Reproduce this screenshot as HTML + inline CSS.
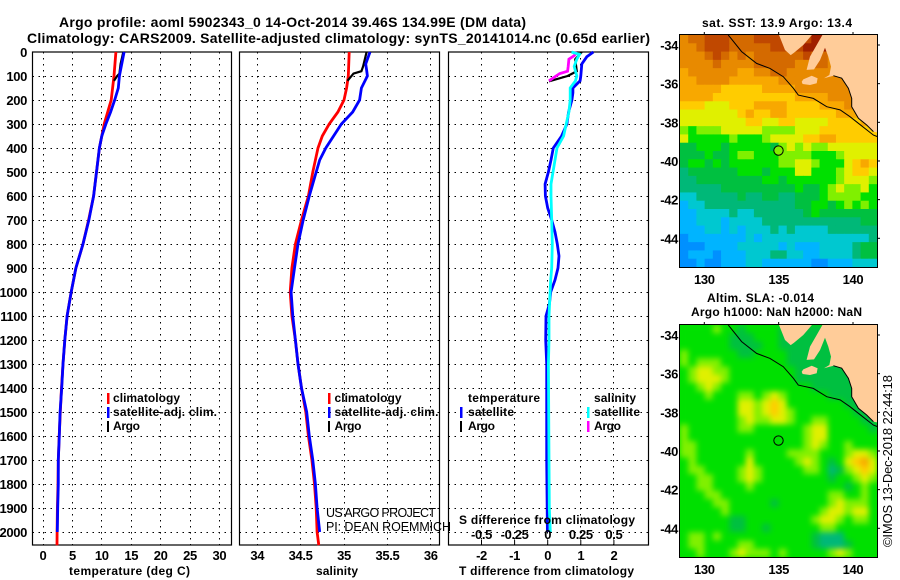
<!DOCTYPE html>
<html lang="en">
<head>
<meta charset="utf-8">
<title>Argo profile 5902343</title>
<style>
html,body{margin:0;padding:0;background:#fff;}
svg{display:block;}
text{font-family:"Liberation Sans",sans-serif;fill:#000;}
.b{font-weight:bold;font-size:12px;}
.t{font-weight:bold;font-size:14px;}
.k{font-weight:bold;font-size:13px;letter-spacing:-.35px;}
.r{font-weight:normal;font-size:12.5px;}
</style>
</head>
<body>
<svg id="chart" xmlns="http://www.w3.org/2000/svg" width="900" height="580" viewBox="0 0 900 580">
  <g id="layer-maps"></g>
  <g id="layer-panels"></g>

  <text class="t" x="59" y="27" textLength="467">Argo profile: aoml 5902343_0 14-Oct-2014 39.46S 134.99E (DM data)</text>
  <text class="t" x="27" y="43" textLength="623">Climatology: CARS2009. Satellite-adjusted climatology: synTS_20141014.nc (0.65d earlier)</text>

  <text class="b" x="69" y="575" textLength="121">temperature (deg C)</text>
  <text class="b" x="316" y="575" textLength="42">salinity</text>
  <text class="b" x="459" y="575" textLength="175">T difference from climatology</text>
  <text class="b" x="459" y="524" textLength="176">S difference from climatology</text>

  <g>
    <rect x="107" y="393" width="2.5" height="11" fill="#ff0000"/>
    <rect x="107" y="407" width="2.5" height="11" fill="#0000ff"/>
    <rect x="107" y="421" width="2" height="11" fill="#000"/>
    <text class="b" x="113" y="402" textLength="67">climatology</text>
    <text class="b" x="113" y="416" textLength="104">satellite-adj. clim.</text>
    <text class="b" x="113" y="430" textLength="27">Argo</text>
  </g>
  <g>
    <rect x="328" y="393" width="2.5" height="11" fill="#ff0000"/>
    <rect x="328" y="407" width="2.5" height="11" fill="#0000ff"/>
    <rect x="328" y="421" width="2" height="11" fill="#000"/>
    <text class="b" x="334.5" y="402" textLength="67">climatology</text>
    <text class="b" x="334.5" y="416" textLength="104">satellite-adj. clim.</text>
    <text class="b" x="334.5" y="430" textLength="27">Argo</text>
  </g>
  <g>
    <text class="b" x="468" y="402" textLength="72">temperature</text>
    <rect x="460" y="407" width="2.5" height="11" fill="#0000ff"/>
    <rect x="460" y="421" width="2" height="11" fill="#000"/>
    <text class="b" x="468" y="416" textLength="46">satellite</text>
    <text class="b" x="468" y="430" textLength="27">Argo</text>
    <text class="b" x="594" y="402" textLength="42">salinity</text>
    <rect x="587" y="407" width="2.5" height="11" fill="#00ffff"/>
    <rect x="587" y="421" width="2.5" height="11" fill="#ff00ff"/>
    <text class="b" x="594" y="416" textLength="46">satellite</text>
    <text class="b" x="594" y="430" textLength="27">Argo</text>
  </g>

  <text class="r" x="326" y="517" textLength="110">US ARGO PROJECT</text>
  <text class="r" x="326" y="531" textLength="125">PI: DEAN ROEMMICH</text>

  <text class="b" x="702" y="27" textLength="150">sat. SST: 13.9 Argo: 13.4</text>
  <text class="b" x="707" y="302" textLength="107">Altim. SLA: -0.014</text>
  <text class="b" x="691" y="316" textLength="171">Argo h1000: NaN h2000: NaN</text>
  <text class="r" transform="translate(892,547) rotate(-90)" textLength="172" style="font-size:13px">©IMOS 13-Dec-2018 22:44:18</text>
</svg>

<script>
// ---------- axis tick values ----------
const depthTicks = [0,100,200,300,400,500,600,700,800,900,1000,1100,1200,1300,1400,1500,1600,1700,1800,1900,2000];
const tempTicks = [0,5,10,15,20,25,30];
const salTicks = [34,34.5,35,35.5,36];
const salTickLabels = ["34","34.5","35","35.5","36"];
const dtTicks = [-2,-1,0,1,2];
const dsTicks = [-0.5,-0.25,0,0.25,0.5];
const dsTickLabels = ["-0.5","-0.25","0","0.25","0.5"];
const lonTicks = [130,135,140];
const latTicks = [-34,-36,-38,-40,-42,-44];

// ---------- temperature profiles ----------
const tempClimDepth = [0,100,200,300,400,500,600,700,800,900,1000,1100,1200,1300,1400,1500,1600,1700,1800,1900,2000,2055];
const tempClim = [12.4,12.07,11.6,10.4,9.6,9.1,8.6,7.75,6.8,5.6,4.8,4.1,3.7,3.4,3.15,2.95,2.75,2.6,2.55,2.45,2.4,2.38];
const tempSatDepth = [0,100,150,200,250,300,350,400,500,600,700,800,900,1000,1100,1200,1300,1400,1500,1600,1700,1800,1900,2000];
const tempSat = [13.8,13,12.8,12.2,11.5,10.7,10,9.6,9.1,8.6,7.8,6.8,5.6,4.8,4.1,3.7,3.4,3.18,2.9,2.78,2.6,2.6,2.5,2.43];
const tempArgoDepth = [0,50,90,100,120];
const tempArgo = [13.66,13.2,13,12.6,12.07];

// ---------- salinity profiles ----------
const salClimDepth = [0,100,150,200,250,300,350,400,450,500,600,700,800,900,1000,1100,1200,1300,1400,1500,1600,1700,1800,1900,2000,2055];
const salClim = [35.06,35.05,35.03,35,34.93,34.83,34.75,34.7,34.67,34.64,34.59,34.51,34.44,34.4,34.38,34.4,34.44,34.47,34.51,34.56,34.59,34.63,34.66,34.68,34.69,34.71];
const salSatDepth = [0,50,75,100,150,200,250,300,350,400,450,500,600,700,800,900,1000,1100,1200,1300,1400,1500,1600,1700,1800,1900,2000];
const salSat = [35.3,35.25,35.26,35.27,35.2,35.18,35.1,34.97,34.88,34.79,34.72,34.68,34.6,34.53,34.47,34.43,34.39,34.41,34.44,34.47,34.51,34.57,34.6,34.64,34.67,34.69,34.72];
const salArgoDepth = [0,60,80,90,120];
const salArgo = [35.26,35.22,35.2,35.11,35.04];

// ---------- difference profiles ----------
const dtSatDepth = [0,20,50,100,120,150,170,200,250,300,350,400,450,500,550,600,650,700,750,800,850,900,950,1000,1050,1100,1200,1300,1700,2000];
const dtSat = [1.38,1.18,1.03,1,0.98,0.76,0.76,0.73,0.63,0.58,0.42,0.17,0.1,0.02,-0.08,-0.07,0,0.12,0.22,0.29,0.34,0.31,0.22,0.09,0.05,-0.05,-0.06,-0.03,-0.03,-0.01];
const dsSatDepth = [0,10,30,60,100,120,150,200,250,300,350,400,450,500,550,600,700,800,900,950,1000,1100,1200,1300,1900,2000];
const dsSat = [0.18,0.24,0.22,0.2,0.22,0.21,0.17,0.17,0.16,0.14,0.12,0.07,0.055,0.04,0.025,0.025,0.03,0.035,0.03,0.023,0.018,0.01,0.01,0.005,0.012,0.02];
const dtArgoDepth = [0,30,80,100,122];
const dtArgo = [1.03,0.83,0.88,0.6,0.04];
const dsArgoDepth = [0,15,30,60,80,90,120];
const dsArgo = [0.22,0.2,0.16,0.155,0.15,0.09,0.01];

// ---------- satellite SST map: colour-scale level per grid cell, north to south ----------
const sstLevels = [
[10,11,11,12,12,12,11,11,11,12,12,12,12,12,12,12,13,13,13,13,11,11,11,11],
[10,10,11,12,12,12,11,11,11,11,11,12,12,12,12,13,13,13,11,11,11,11,11,11],
[10,10,10,11,12,11,10,11,10,11,11,11,11,11,11,12,11,11,10,10,10,10,10,10],
[10,10,10,10,11,10,10,10,10,11,11,11,11,11,10,10,11,11,10,10,10,10,10,10],
[9,10,10,10,10,10,10,9,9,10,10,11,11,10,10,10,10,10,10,10,10,10,10,10],
[9,9,10,10,10,10,9,9,9,9,9,9,10,10,10,10,10,10,10,10,10,9,9,9],
[9,9,9,9,9,8,8,8,8,8,9,9,9,9,10,10,10,10,10,10,10,10,10,10],
[9,9,9,9,8,8,8,8,8,8,8,8,8,8,9,9,9,9,10,10,10,10,10,10],
[8,8,8,7,7,7,8,8,8,9,9,9,9,8,8,8,8,9,9,9,10,10,10,10],
[7,7,7,7,7,7,7,8,9,8,8,9,9,8,8,8,8,8,8,9,9,9,9,9],
[7,7,7,7,7,7,7,7,8,8,7,7,8,8,7,7,7,7,8,8,8,8,9,9],
[6,5,6,6,6,7,7,7,7,7,6,6,6,6,7,7,7,8,8,8,8,8,8,8],
[7,5,5,5,5,5,6,5,5,5,6,7,7,7,7,8,8,9,9,8,8,8,8,8],
[4,4,5,5,5,4,5,5,5,5,5,4,6,7,6,7,6,6,7,7,7,7,7,7],
[4,4,4,5,4,4,5,6,6,5,5,5,6,6,6,6,5,5,5,6,7,7,7,7],
[4,5,5,4,5,4,5,5,5,5,5,5,6,6,7,7,6,5,5,5,7,8,9,8],
[3,4,4,4,4,4,4,5,5,5,4,5,5,5,7,7,5,5,5,6,7,8,8,7],
[3,3,4,4,4,4,4,4,4,4,5,5,4,5,5,5,5,5,5,6,7,7,7,6],
[3,3,3,3,3,4,4,4,4,4,4,4,4,4,5,4,4,5,6,7,6,6,7,5],
[2,2,3,3,3,3,3,4,3,3,4,4,3,3,4,4,4,5,6,6,6,6,5,5],
[1,2,2,3,3,3,3,3,3,3,3,3,3,3,4,4,5,5,4,5,6,5,6,5],
[1,1,2,2,2,2,3,2,2,3,3,3,3,3,3,4,5,4,4,4,4,4,4,4],
[1,1,2,2,2,1,2,2,2,2,3,3,3,3,3,3,3,3,3,3,3,3,4,4],
[1,1,1,2,2,1,2,1,2,2,2,3,2,3,2,2,2,2,3,3,3,3,3,3],
[0,1,1,1,1,1,1,1,2,1,2,2,2,2,2,2,2,2,2,2,2,2,2,3],
[0,0,0,1,1,1,1,2,2,2,2,2,1,2,1,1,1,2,2,2,2,3,4,4],
[0,1,1,1,0,1,1,1,2,2,2,3,3,2,2,1,1,2,2,2,2,3,4,4],
[0,0,1,0,0,1,1,1,2,2,1,1,1,1,1,1,0,0,1,1,1,2,2,2]
];

// ---------- altimeter SLA map: colour-scale level per grid cell, north to south ----------
const slaLevels = [
[5,5,5,5,6,5,5,4,5,5,5,5,4,4,4,4,4,4,4,4,4,4,4,4],
[5,5,5,5,5,5,4,4,4,5,5,5,4,4,4,4,4,4,4,4,4,4,4,4],
[5,5,5,5,5,5,4,4,4,4,5,5,4,4,4,4,4,4,4,4,4,4,4,4],
[6,5,5,5,5,5,5,4,4,5,5,5,5,4,4,4,4,4,4,4,4,4,4,4],
[6,5,6,6,6,5,5,5,5,5,5,5,5,4,4,4,4,4,4,4,4,4,4,4],
[5,6,7,7,6,6,5,5,5,5,5,5,5,5,4,4,4,4,4,4,4,4,4,4],
[5,6,7,7,7,6,5,5,5,5,5,5,5,5,4,4,4,4,4,4,4,4,4,4],
[5,5,6,7,6,5,5,5,5,5,5,5,5,5,5,5,4,4,4,4,4,4,4,4],
[5,5,5,6,5,5,5,6,6,5,6,7,6,5,5,5,5,5,4,4,4,4,4,4],
[5,5,5,5,5,5,5,7,7,6,7,8,7,5,5,5,5,5,5,5,4,4,4,4],
[5,5,5,5,5,5,5,7,7,6,7,8,7,6,5,5,5,5,5,5,5,4,4,4],
[5,5,5,5,5,5,5,6,7,6,6,7,7,6,5,5,6,6,5,5,5,5,4,4],
[6,5,5,5,5,5,5,6,6,5,5,5,5,5,5,6,7,7,5,5,5,5,5,4],
[6,5,5,5,5,5,5,5,5,5,5,5,5,5,5,6,7,7,5,5,5,5,5,5],
[6,6,5,5,5,5,5,5,5,5,5,5,5,5,5,6,7,6,5,5,6,5,5,5],
[6,6,5,5,5,5,5,5,6,5,5,5,5,6,6,6,6,5,5,5,6,7,7,6],
[5,6,5,5,5,5,5,5,7,5,5,5,5,5,6,7,6,5,4,5,7,8,9,7],
[5,6,6,5,5,5,5,6,7,6,5,5,5,5,5,6,6,5,3,4,6,7,8,7],
[5,5,6,6,5,5,5,6,7,6,5,5,5,5,5,5,5,5,4,5,5,6,7,6],
[5,5,6,6,5,5,5,5,6,5,5,5,5,5,5,5,5,5,5,5,4,5,6,5],
[5,5,5,6,6,5,5,5,5,5,5,5,5,5,5,5,5,5,6,6,5,5,6,5],
[5,5,5,5,6,6,5,5,5,5,5,4,5,5,5,5,5,5,6,7,6,6,6,5],
[5,5,5,5,5,6,5,5,5,5,5,5,5,5,5,5,5,6,7,7,6,7,7,5],
[5,5,5,5,5,5,4,4,5,5,5,5,5,5,5,5,6,7,7,6,5,6,6,5],
[5,5,5,5,5,5,4,4,5,5,4,5,5,5,5,5,5,6,6,5,5,5,5,5],
[5,6,6,5,6,5,5,5,5,5,5,5,5,5,5,5,4,3,3,3,5,5,5,5],
[5,6,6,5,5,5,5,6,6,5,5,5,5,5,5,5,4,3,3,3,4,5,5,5],
[5,5,6,5,5,5,6,7,6,6,6,5,6,5,5,5,5,5,6,7,6,5,5,5]
];

const sstPalette = ["#0090ff","#00b4ff","#00c8d0","#00b878","#00c040","#00e000","#80f000","#e0f000","#ffcc00","#f8a800","#e88a00","#d46a00","#c04800","#a02000"];

// ---------- geography as [lon, lat] ----------
const mainlandOutline = [[141.7,-33.4],[138,-33.4],[137.56,-34],[137.11,-34.6],[136.88,-35.29],[137.38,-35.26],[137.78,-34.78],[138.12,-34.14],[138.34,-34.6],[138.52,-35.12],[138.41,-35.55],[138.05,-35.72],[138.68,-35.59],[139.24,-35.72],[139.69,-36.24],[139.91,-36.76],[139.91,-37.19],[140.36,-37.79],[140.92,-38.14],[141.37,-38.48],[141.7,-38.53]];
const eyreOutline = [[134.98,-33.4],[135.43,-34.26],[135.81,-34.52],[136.03,-34.4],[136.66,-34],[137.33,-33.4]];
const kangarooOutline = [[136.55,-35.9],[136.66,-35.78],[137.22,-35.59],[137.62,-35.72],[137.56,-35.98],[137.11,-36.07],[136.61,-36.02]];
const southEastCoast = [[138.68,-35.59],[139.24,-35.72],[139.69,-36.24],[139.91,-36.76],[139.91,-37.19],[140.36,-37.79],[140.92,-38.14],[141.37,-38.48]];
const shelfLine = [[131.61,-33.48],[132.51,-34.34],[133.52,-34.95],[134.42,-35.21],[135.31,-35.64],[135.99,-36.24],[136.32,-36.59],[137.33,-36.76],[138.23,-37.19],[139.13,-37.36],[139.8,-37.71],[140.36,-38.05],[141.37,-38.66],[141.64,-38.74]];
const argoPosition = [134.99,-39.46];

// ---------- helpers ----------
const NS = "http://www.w3.org/2000/svg";
function mk(tag, attrs, parent, txt){
  const el = document.createElementNS(NS, tag);
  for (const a in attrs) el.setAttribute(a, attrs[a]);
  if (txt !== undefined) el.textContent = txt;
  parent.appendChild(el);
  return el;
}
const panelTop = 52, panelBottom = 545;
const yDepth = d => panelTop + 0.24 * d;
const xTemp = t => 43 + 5.88 * t;
const xSal = s => 344 + 86.8 * (s - 35);
const xDt = t => 547.7 + 33.1 * t;
const xDs = s => 547.7 + 132.4 * s;

const panelLayer = document.getElementById("layer-panels");
const mapLayer = document.getElementById("layer-maps");

function drawPanel(name, left, right, xs, xScale){
  const g = mk("g", {}, panelLayer);
  
  
  depthTicks.slice(1).forEach(d => {
    const y = Math.floor(yDepth(d)) + 0.5;
    const l = mk("line", {x1:left,x2:right,y1:y,y2:y,stroke:"#000","stroke-width":1,"stroke-dasharray":"1.5 4.5","shape-rendering":"crispEdges"}, g);
    
    
  });
  xs.forEach(v => {
    const x = Math.floor(xScale(v)) + 0.5;
    const l = mk("line", {x1:x,x2:x,y1:panelTop,y2:panelBottom,stroke:"#000","stroke-width":1,"stroke-dasharray":"1.5 4.5","shape-rendering":"crispEdges"}, g);
    
    
  });
  const f = mk("rect", {x:left,y:panelTop,width:right-left,height:panelBottom-panelTop,fill:"none",stroke:"#000","stroke-width":1.2}, g);
  
  
  return g;
}
function drawProfile(g, name, depths, vals, xScale, color, w){
  const pts = depths.map((d,i) => xScale(vals[i]).toFixed(1) + "," + yDepth(d).toFixed(1)).join(" ");
  const p = mk("polyline", {points:pts,fill:"none",stroke:color,"stroke-width":w,"stroke-linejoin":"miter"}, g);
  
  
}
function drawXTicks(g, vals, labels, xScale, y, name){
  vals.forEach((v,i) => {
    const t = mk("text", {class:"k",x:xScale(v),y:y,"text-anchor":"middle"}, g, labels[i]);
    
    
  });
}

// temperature
const gT = drawPanel("temperature", 32.5, 231.5, tempTicks, xTemp);
drawProfile(gT, "temperature-climatology-line", tempClimDepth, tempClim, xTemp, "#ff0000", 2.8);
drawProfile(gT, "temperature-argo-line", tempArgoDepth, tempArgo, xTemp, "#000000", 2.2);
drawProfile(gT, "temperature-satellite-line", tempSatDepth, tempSat, xTemp, "#0000ff", 2.8);
drawXTicks(gT, tempTicks, tempTicks.map(String), xTemp, 560, "temperature-tick-label");
depthTicks.forEach(d => {
  const t = mk("text", {class:"k",x:27,y:yDepth(d)+5,"text-anchor":"end"}, gT, String(d));
  
  
});

// salinity
const gS = drawPanel("salinity", 239.5, 439.5, salTicks, xSal);
drawProfile(gS, "salinity-climatology-line", salClimDepth, salClim, xSal, "#ff0000", 2.8);
drawProfile(gS, "salinity-argo-line", salArgoDepth, salArgo, xSal, "#000000", 2.2);
drawProfile(gS, "salinity-satellite-line", salSatDepth, salSat, xSal, "#0000ff", 2.8);
drawXTicks(gS, salTicks, salTickLabels, xSal, 560, "salinity-tick-label");

// differences
const gD = drawPanel("difference", 448.5, 648.5, dtTicks, xDt);
drawProfile(gD, "t-difference-argo-line", dtArgoDepth, dtArgo, xDt, "#000000", 2.2);
drawProfile(gD, "s-difference-argo-line", dsArgoDepth, dsArgo, xDs, "#ff00ff", 2.8);
drawProfile(gD, "t-difference-satellite-line", dtSatDepth, dtSat, xDt, "#0000ff", 2.8);
drawProfile(gD, "s-difference-satellite-line", dsSatDepth, dsSat, xDs, "#00ffff", 2.8);
drawXTicks(gD, dtTicks, dtTicks.map(String), xDt, 560, "t-difference-tick-label");
drawXTicks(gD, dsTicks, dsTickLabels, xDs, 539, "s-difference-tick-label");
dtTicks.forEach(v => {
  const l = mk("line", {x1:xDt(v),x2:xDt(v),y1:540,y2:545,stroke:"#000","stroke-width":1}, gD);
  
  
});

// maps
function drawMap(name, top, levels, circleLevel, smoothPx){
  const left = 680, right = 877, bottom = top + 232;
  const xLon = lon => 704.3 + 14.87 * (lon - 130);
  const yLat = lat => top + 10 + 19.33 * (-34 - lat);
  const g = mk("g", {}, mapLayer);
  
  
  const cid = name + "-clip";
  const cp = mk("clipPath", {id:cid}, g);
  mk("rect", {x:left,y:top,width:right-left,height:bottom-top}, cp);
  const body = mk("g", {"clip-path":"url(#" + cid + ")"}, g);
  const rows = levels.length, cols = levels[0].length;
  const cw = (right-left)/cols, ch = (bottom-top)/rows;
  const back = mk("rect", {x:left,y:top,width:right-left,height:bottom-top,fill:sstPalette[levels[rows-1][cols-1]]}, body);
  
  
  const cells = mk("g", {}, body);
  if (smoothPx) cells.style.filter = "blur(" + smoothPx + "px)";
  levels.forEach((row,r) => row.forEach((v,c) => {
    const cell = mk("rect", {x:(left+c*cw).toFixed(2),y:(top+r*ch).toFixed(2),width:(cw+0.5).toFixed(2),height:(ch+0.5).toFixed(2),fill:sstPalette[v]}, cells);
    
    
  }));
  const toPts = arr => arr.map(p => xLon(p[0]).toFixed(1) + "," + yLat(p[1]).toFixed(1)).join(" ");
  [mainlandOutline, eyreOutline, kangarooOutline].forEach(o => {
    const land = mk("polygon", {points:toPts(o),fill:"#ffcc99"}, body);
    
    
  });
  const coast = mk("polyline", {points:toPts(southEastCoast),fill:"none",stroke:"#000","stroke-width":1}, body);
  
  
  const shelf = mk("polyline", {points:toPts(shelfLine),fill:"none",stroke:"#000","stroke-width":1}, body);
  
  
  const dot = mk("circle", {cx:xLon(argoPosition[0]),cy:yLat(argoPosition[1]),r:4.7,fill:circleLevel === null ? "none" : sstPalette[circleLevel],stroke:"#000","stroke-width":1}, g);
  
  
  const f = mk("rect", {x:left-0.5,y:top-0.5,width:right-left+1,height:bottom-top+1,fill:"none",stroke:"#000","stroke-width":1}, g);
  
  
  lonTicks.forEach(v => {
    const tk = mk("line", {x1:xLon(v),x2:xLon(v),y1:top-3,y2:top,stroke:"#000"}, g);
    
    
    const t = mk("text", {class:"k",x:xLon(v),y:bottom+17,"text-anchor":"middle"}, g, String(v));
    
    
  });
  latTicks.forEach(v => {
    const tk = mk("line", {x1:right,x2:right+3,y1:yLat(v),y2:yLat(v),stroke:"#000"}, g);
    
    
    const t = mk("text", {class:"k",x:678,y:yLat(v)+5,"text-anchor":"end"}, g, String(v));
    
    
  });
}
drawMap("sst", 35, sstLevels, 6, 0);
drawMap("sla", 325, slaLevels, null, 3);
</script>
</body>
</html>
